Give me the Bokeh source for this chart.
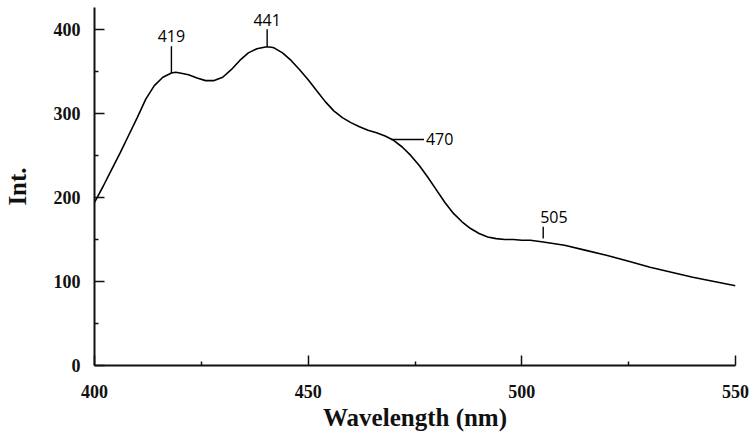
from bokeh.plotting import figure
from bokeh.models import Range1d, FixedTicker
from bokeh.embed import file_html
from bokeh.resources import INLINE
from bokeh.core.properties import value

# ---- data ----
wavelength = [400, 402, 404, 406, 408, 410, 412, 414, 416, 418, 419, 420, 422, 424, 426, 428,
              430, 432, 434, 436, 438, 440, 441, 442, 444, 446, 448, 450, 452, 454, 456, 458,
              460, 462, 464, 466, 468, 470, 472, 474, 476, 478, 480, 482, 484, 486, 488, 490,
              492, 494, 496, 498, 500, 502, 505, 510, 515, 520, 525, 530, 535, 540, 545, 550]
intensity = [194, 213, 233, 253, 274, 295, 317, 333, 343, 348, 349, 348, 346, 342, 339, 339,
             343, 352, 363, 372, 377, 379, 379, 378, 372, 363, 352, 340, 327, 314, 303, 295,
             289, 284, 280, 277, 273, 268, 260, 250, 238, 224, 209, 194, 181, 171, 163, 157,
             153, 151, 150, 150, 149, 149, 147, 143, 137, 131, 124, 117, 111, 105, 100, 95]

peak_labels = ["419", "441", "470", "505"]
peak_wl = [418.0, 440.4, 469.4, 505.0]
peak_int = [348, 379, 269, 151]

x_major = [400, 450, 500, 550]
x_minor = [425, 475, 525]
y_major = [0, 100, 200, 300, 400]
y_minor = [50, 150, 250, 350]

# ---- styles ----
stick_len = [32, 21, 7.7, 14]        # length of each marker stick (data units)
stick_dir = ["up", "up", "right", "up"]
label_offsets = [(0, -4, "center", "bottom"), (0, -3, "center", "bottom"),
                 (2, 0, "left", "middle"), (-3, -4, "left", "bottom")]

serif = "Liberation Serif"
ink = "#111111"

p = figure(width=756, height=441, output_backend="svg", toolbar_location=None,
           x_range=Range1d(400, 550), y_range=Range1d(0, 426),
           min_border_left=93, min_border_right=21, min_border_top=7, min_border_bottom=76)
p.outline_line_color = None
p.xgrid.visible = False
p.ygrid.visible = False
p.background_fill_color = "white"
p.border_fill_color = "white"

p.line(wavelength, intensity, line_color="black", line_width=1.6)

for wl, it, ln, d, lab, (xo, yo, al, bl) in zip(peak_wl, peak_int, stick_len, stick_dir,
                                                 peak_labels, label_offsets):
    if d == "up":
        x1, y1 = wl, it + ln
    else:
        x1, y1 = wl + ln, it
    p.segment(x0=[wl], y0=[it], x1=[x1], y1=[y1], line_color="black", line_width=1.4)
    p.text(x=[x1], y=[y1], text=[lab], x_offset=xo, y_offset=yo,
           text_align=al, text_baseline=bl, text_font=value("Open Sans"),
           text_font_size="16px", text_color="black")

p.xaxis.ticker = FixedTicker(ticks=x_major, minor_ticks=x_minor)
p.yaxis.ticker = FixedTicker(ticks=y_major, minor_ticks=y_minor)

for ax in (p.xaxis[0], p.yaxis[0]):
    ax.axis_line_color = ink
    ax.axis_line_width = 2
    ax.major_tick_line_color = ink
    ax.major_tick_line_width = 1.5
    ax.minor_tick_line_color = ink
    ax.minor_tick_line_width = 1.5
    ax.major_tick_out = 0
    ax.major_tick_in = 10
    ax.minor_tick_out = 0
    ax.minor_tick_in = 4
    ax.major_label_text_font = serif
    ax.major_label_text_font_style = "bold"
    ax.major_label_text_font_size = "18px"
    ax.major_label_text_color = ink
    ax.axis_label_text_font = serif
    ax.axis_label_text_font_style = "bold"
    ax.axis_label_text_font_size = "25px"
    ax.axis_label_text_color = ink

p.xaxis.axis_label = "Wavelength (nm)"
p.yaxis.axis_label = "Int."
p.xaxis.major_label_standoff = 19
p.yaxis.major_label_standoff = 14
p.xaxis.axis_label_standoff = 3
p.yaxis.axis_label_standoff = 20

open("out.html", "w").write(file_html(p, INLINE))
